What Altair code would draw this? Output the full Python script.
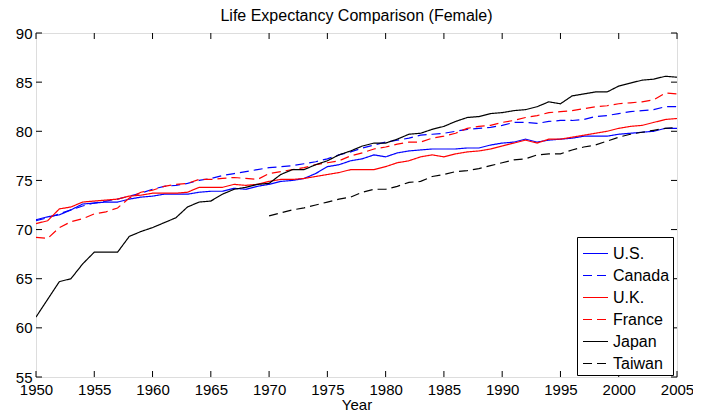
import altair as alt
import pandas as pd

years = list(range(1950, 2006))
taiwan_years = list(range(1970, 2006))

us = [71.0, 71.3, 71.5, 72.0, 72.6, 72.7, 72.8, 72.8, 73.1, 73.3,
      73.4, 73.6, 73.6, 73.6, 73.8, 73.9, 73.9, 74.2, 74.1, 74.4,
      74.6, 74.9, 75.0, 75.2, 75.7, 76.4, 76.6, 77.0, 77.2, 77.6,
      77.4, 77.8, 78.0, 78.1, 78.2, 78.2, 78.2, 78.3, 78.3, 78.6,
      78.8, 78.9, 79.2, 78.9, 79.1, 79.2, 79.3, 79.5, 79.5, 79.5,
      79.7, 79.8, 79.9, 80.0, 80.3, 80.3]
canada = [70.9, 71.2, 71.6, 72.0, 72.4, 72.7, 72.9, 73.1, 73.4, 73.7,
          74.1, 74.4, 74.5, 74.7, 75.0, 75.2, 75.5, 75.7, 75.9, 76.1,
          76.3, 76.4, 76.5, 76.7, 76.9, 77.2, 77.6, 77.9, 78.3, 78.6,
          78.9, 79.1, 79.3, 79.6, 79.7, 79.8, 80.0, 80.2, 80.3, 80.4,
          80.6, 80.9, 80.9, 80.8, 81.0, 81.1, 81.1, 81.2, 81.5, 81.6,
          81.8, 82.0, 82.1, 82.2, 82.5, 82.5]
uk = [70.6, 70.9, 72.1, 72.3, 72.8, 72.9, 73.0, 73.1, 73.4, 73.5,
      73.7, 73.7, 73.7, 73.8, 74.3, 74.3, 74.3, 74.6, 74.5, 74.6,
      74.9, 75.1, 75.1, 75.2, 75.4, 75.6, 75.8, 76.1, 76.1, 76.1,
      76.4, 76.8, 77.0, 77.4, 77.6, 77.4, 77.7, 77.9, 78.0, 78.2,
      78.5, 78.8, 79.1, 78.8, 79.2, 79.2, 79.4, 79.6, 79.8, 80.0,
      80.3, 80.5, 80.6, 80.9, 81.2, 81.3]
france = [69.2, 69.1, 70.2, 70.8, 71.1, 71.6, 71.8, 72.2, 73.2, 73.8,
          74.0, 74.4, 74.6, 74.7, 75.1, 75.1, 75.2, 75.3, 75.2, 75.1,
          75.7, 75.9, 76.1, 76.3, 76.6, 76.8, 77.0, 77.5, 77.8, 78.2,
          78.4, 78.7, 78.9, 78.9, 79.3, 79.5, 79.8, 80.3, 80.5, 80.6,
          80.9, 81.1, 81.4, 81.6, 81.9, 82.0, 82.1, 82.3, 82.5, 82.6,
          82.8, 82.9, 83.0, 83.2, 83.9, 83.8]
japan = [61.1, 62.9, 64.7, 65.0, 66.5, 67.7, 67.7, 67.7, 69.3, 69.8,
         70.2, 70.7, 71.2, 72.3, 72.8, 72.9, 73.6, 74.1, 74.3, 74.6,
         74.7, 75.6, 76.1, 76.1, 76.6, 77.0, 77.6, 78.0, 78.5, 78.8,
         78.8, 79.2, 79.7, 79.8, 80.2, 80.5, 81.0, 81.4, 81.5, 81.8,
         81.9, 82.1, 82.2, 82.5, 83.0, 82.8, 83.6, 83.8, 84.0, 84.0,
         84.6, 84.9, 85.2, 85.3, 85.6, 85.5]
taiwan = [71.4, 71.7, 72.0, 72.2, 72.5, 72.8, 73.1, 73.3, 73.8, 74.1,
          74.1, 74.4, 74.8, 74.9, 75.4, 75.6, 75.9, 76.0, 76.2, 76.5,
          76.8, 77.1, 77.2, 77.6, 77.7, 77.7, 78.1, 78.4, 78.6, 79.0,
          79.4, 79.7, 79.9, 80.1, 80.3, 80.4]

countries = ["U.S.", "Canada", "U.K.", "France", "Japan", "Taiwan"]
colors = ["#0000ff", "#0000ff", "#ff0000", "#ff0000", "#000000", "#000000"]
dashes = [[1, 0], [9, 5], [1, 0], [9, 5], [1, 0], [9, 5]]

x_ticks = list(range(1950, 2006, 5))
y_ticks = list(range(55, 91, 5))

rows = []
for name, ys, vals in [("U.S.", years, us), ("Canada", years, canada),
                       ("U.K.", years, uk), ("France", years, france),
                       ("Japan", years, japan), ("Taiwan", taiwan_years, taiwan)]:
    for yr, v in zip(ys, vals):
        rows.append({"country": name, "year": yr, "value": v})
df = pd.DataFrame(rows)

W, H = 641, 344
FONT = "Liberation Sans"
xscale = alt.Scale(domain=[1950, 2005], nice=False, zero=False)
yscale = alt.Scale(domain=[55, 90], nice=False, zero=False)

xaxis = alt.Axis(title="Year", values=x_ticks, format="d", grid=False,
                 ticks=False, domain=False, labelPadding=5, labelFlush=False,
                 labelOverlap=False,
                 labelFontSize=15, titleFontSize=15, titleFontWeight="normal",
                 titlePadding=0, labelFont=FONT, titleFont=FONT,
                 labelColor="black", titleColor="black")
yaxis = alt.Axis(title="", values=y_ticks, grid=False, ticks=False,
                 domain=False, labelPadding=4, labelFontSize=15, labelFlush=False,
                 labelOverlap=False, labelFont=FONT, labelColor="black")

legend = alt.Legend(title=None, orient="none", legendX=541, legendY=204,
                    fillColor="white", strokeColor="black", padding=3,
                    symbolType="stroke", symbolSize=625,
                    symbolStrokeWidth=1.2, symbolOffset=2,
                    labelOffset=4, labelFontSize=16, labelFont=FONT,
                    labelColor="black", rowPadding=-2.5)

lines = alt.Chart(df).mark_line(strokeWidth=1.2, clip=True).encode(
    x=alt.X("year:Q", scale=xscale, axis=xaxis),
    y=alt.Y("value:Q", scale=yscale, axis=yaxis),
    color=alt.Color("country:N", scale=alt.Scale(domain=countries, range=colors),
                    legend=legend),
    strokeDash=alt.StrokeDash("country:N", scale=alt.Scale(domain=countries, range=dashes),
                              legend=None),
    detail="country:N",
)

xt = pd.DataFrame({"year": x_ticks})
yt = pd.DataFrame({"value": y_ticks})
tl = 6
bottom_ticks = alt.Chart(xt).mark_rule(color="black", strokeWidth=1).encode(
    x=alt.X("year:Q", scale=xscale, axis=xaxis), y=alt.value(H), y2=alt.value(H - tl))
top_ticks = alt.Chart(xt).mark_rule(color="black", strokeWidth=1).encode(
    x=alt.X("year:Q", scale=xscale, axis=xaxis), y=alt.value(0), y2=alt.value(tl))
left_ticks = alt.Chart(yt).mark_rule(color="black", strokeWidth=1).encode(
    y=alt.Y("value:Q", scale=yscale, axis=yaxis), x=alt.value(0), x2=alt.value(tl))
right_ticks = alt.Chart(yt).mark_rule(color="black", strokeWidth=1).encode(
    y=alt.Y("value:Q", scale=yscale, axis=yaxis), x=alt.value(W), x2=alt.value(W - tl))

chart = alt.layer(lines, bottom_ticks, top_ticks, left_ticks, right_ticks).properties(
    width=W, height=H,
    title=alt.Title("Life Expectancy Comparison (Female)", fontSize=16, font=FONT,
                    fontWeight="normal", color="black", offset=2),
    autosize=alt.AutoSizeParams(type="none"),
    padding={"left": 28, "top": 25, "right": 16, "bottom": 34},
).configure_view(stroke="black", strokeWidth=1).configure(background="white")

chart.save("out.html", embed_options={"renderer": "svg", "actions": False})
